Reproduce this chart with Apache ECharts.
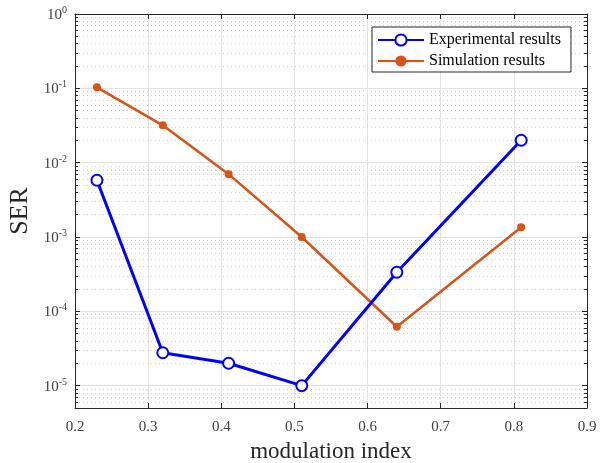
<!DOCTYPE html>
<html>
<head>
<meta charset="utf-8">
<script src="https://cdn.jsdelivr.net/npm/echarts@6/dist/echarts.min.js"></script>
<style>
  html, body { margin: 0; padding: 0; background: #fff; }
  #chart { width: 610px; height: 463px; }
</style>
</head>
<body>
<div id="chart"></div>
<script>
const modIndex = [0.23, 0.32, 0.41, 0.51, 0.64, 0.81];
const experimental = [5.8e-3, 2.77e-5, 2.0e-5, 1.0e-5, 3.35e-4, 2.0e-2];
const simulation = [0.103, 0.0318, 7.0e-3, 1.0e-3, 6.2e-5, 1.35e-3];

const FONT = '"Liberation Serif", "Times New Roman", serif';
const AXIS_COLOR = '#262626';

function pair(xs, ys) {
  return xs.map((x, i) => [x, ys[i]]);
}

function powLabel(value) {
  const lg = Math.log10(value);
  const e = Math.round(lg);
  if (Math.abs(lg - e) > 1e-6) return '';
  return '{b|10}{s|' + e + '}';
}

const chart = echarts.init(document.getElementById('chart'));

const xBase = {
  type: 'value',
  min: 0.2,
  max: 0.9,
  interval: 0.1,
  axisLine: { show: true, lineStyle: { color: AXIS_COLOR, width: 1 } },
  axisTick: { show: true, inside: true, length: 5, lineStyle: { color: AXIS_COLOR } },
};

const yBase = {
  type: 'log',
  logBase: 10,
  min: 5e-6,
  max: 1,
  axisLine: { show: true, lineStyle: { color: AXIS_COLOR, width: 1 } },
  axisTick: { show: true, inside: true, length: 5, lineStyle: { color: AXIS_COLOR } },
  minorTick: { show: true, splitNumber: 9, length: 3, lineStyle: { color: AXIS_COLOR } },
};

chart.setOption({
  animation: false,
  backgroundColor: '#fff',
  grid: { left: 75, right: 23, top: 14, bottom: 55, containLabel: false, outerBoundsMode: 'none' },
  legend: {
    orient: 'vertical',
    left: 372,
    top: 27,
    padding: [5, 10, 3, 5],
    itemGap: 5,
    itemWidth: 46,
    itemHeight: 14,
    backgroundColor: '#fff',
    borderColor: AXIS_COLOR,
    borderWidth: 1,
    borderRadius: 0,
    textStyle: { fontFamily: FONT, fontSize: 16, color: '#000', lineHeight: 16 },
    data: ['Experimental results', 'Simulation results'],
  },
  xAxis: [
    Object.assign({}, xBase, {
      position: 'bottom',
      name: 'modulation index',
      nameLocation: 'middle',
      nameGap: 32,
      nameTextStyle: { fontFamily: FONT, fontSize: 23, color: '#262626' },
      axisLabel: { fontFamily: FONT, fontSize: 15, color: '#404040', margin: 12 },
      splitLine: { show: true, lineStyle: { color: '#e3e3e3', width: 1 } },
    }),
    Object.assign({}, xBase, {
      position: 'top',
      axisLabel: { show: false },
      splitLine: { show: false },
    }),
  ],
  yAxis: [
    Object.assign({}, yBase, {
      position: 'left',
      name: 'SER',
      nameLocation: 'middle',
      nameGap: 40,
      nameTextStyle: { fontFamily: FONT, fontSize: 26, color: '#262626' },
      axisLabel: {
        margin: 8,
        formatter: powLabel,
        rich: {
          b: { fontFamily: FONT, fontSize: 15, color: '#404040', verticalAlign: 'bottom' },
          s: { fontFamily: FONT, fontSize: 10, color: '#404040', verticalAlign: 'bottom', padding: [0, 0, 7, 0] },
        },
      },
      splitLine: { show: true, lineStyle: { color: '#e3e3e3', width: 1 } },
      minorSplitLine: { show: true, lineStyle: { color: '#d2d2d2', type: [1, 3], width: 1 } },
    }),
    Object.assign({}, yBase, {
      position: 'right',
      axisLabel: { show: false },
      splitLine: { show: false },
    }),
  ],
  series: [
    {
      name: 'Experimental results',
      type: 'line',
      data: pair(modIndex, experimental),
      symbol: 'emptyCircle',
      symbolSize: 11,
      lineStyle: { color: '#0000ff', width: 3 },
      itemStyle: { color: '#0000ff', borderColor: '#0000ff', borderWidth: 2.5 },
      z: 3,
    },
    {
      name: 'Simulation results',
      type: 'line',
      data: pair(modIndex, simulation),
      symbol: 'circle',
      symbolSize: 8,
      lineStyle: { color: '#d95319', width: 2.5 },
      itemStyle: { color: '#d95319' },
      z: 2,
    },
  ],
});
</script>
</body>
</html>
